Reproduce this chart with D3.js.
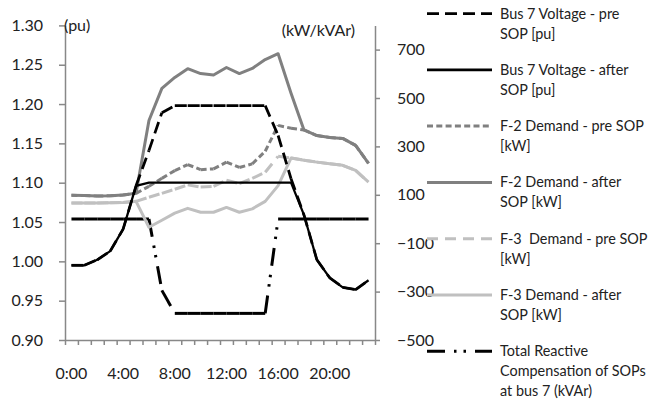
<!DOCTYPE html>
<html>
<head>
<meta charset="utf-8">
<script src="https://cdn.jsdelivr.net/npm/d3@7"></script>
<style>
  body { margin: 0; background: #fff; }
  text { font-family: Lato, "Open Sans", sans-serif; fill: #222; }
</style>
</head>
<body>
<div id="chart"></div>
<script>
// hourly data, 0:00 .. 23:00
const hours = d3.range(24).map(h => h + ':00');
const hourLabels = ['0:00', '4:00', '8:00', '12:00', '16:00', '20:00'];

// left axis (pu)
const busPre = [0.995, 0.995, 1.002, 1.013, 1.041, 1.096, 1.141, 1.189, 1.198, 1.198, 1.198, 1.198,
  1.198, 1.198, 1.198, 1.198, 1.160, 1.105, 1.059, 1.002, 0.979, 0.967, 0.964, 0.976];
const busAfter = [0.995, 0.995, 1.002, 1.013, 1.041, 1.096, 1.100, 1.100, 1.100, 1.100, 1.100, 1.100,
  1.100, 1.100, 1.100, 1.100, 1.100, 1.100, 1.059, 1.002, 0.979, 0.967, 0.964, 0.976];

// right axis (kW / kVAr)
const f2Pre = [98, 97, 95, 96, 99, 106, 135, 168, 200, 225, 204, 207,
  235, 213, 228, 280, 387, 375, 368, 345, 337, 333, 304, 230];
const f2After = [98, 97, 95, 96, 99, 106, 407, 540, 585, 621, 601, 595,
  626, 601, 622, 659, 683, 520, 368, 345, 337, 333, 304, 230];
const f3Pre = [66, 66, 66, 67, 68, 73, 90, 106, 123, 141, 132, 135,
  160, 146, 168, 193, 259, 252, 243, 235, 228, 222, 201, 152];
const f3After = [66, 66, 66, 67, 68, 73, -34, -5, 24, 44, 28, 28,
  48, 28, 42, 73, 138, 252, 243, 235, 228, 222, 201, 152];
const reactive = [0, 0, 0, 0, 0, 0, 0, -295, -390, -390, -390, -390,
  -390, -390, -390, -390, 0, 0, 0, 0, 0, 0, 0, 0];

const leftTicks = [0.90, 0.95, 1.00, 1.05, 1.10, 1.15, 1.20, 1.25, 1.30];
const rightTicks = [-500, -300, -100, 100, 300, 500, 700];

const width = 652, height = 402;
const plot = { left: 65, right: 375, top: 25.4, bottom: 340 };
const axisColor = '#888';

const svg = d3.select('#chart').append('svg')
  .attr('width', width)
  .attr('height', height);

const x = d3.scaleBand().domain(hours).range([plot.left, plot.right]);
const xEdge = d3.scaleLinear().domain([0, 24]).range([plot.left, plot.right]);
const yL = d3.scaleLinear().domain([0.9, 1.3]).range([plot.bottom, plot.top]);
const yR = d3.scaleLinear().domain([-500, 800]).range([plot.bottom, plot.top]);

function styleAxis(g) {
  g.selectAll('path, line').attr('stroke', axisColor).attr('stroke-width', 1.5);
  g.selectAll('text').style('font-size', '16px').attr('fill', '#222');
}

// left axis
svg.append('g')
  .attr('transform', `translate(${plot.left},0)`)
  .call(d3.axisLeft(yL).tickValues(leftTicks).tickFormat(d3.format('.2f'))
    .tickSize(6).tickSizeOuter(0).tickPadding(16))
  .call(styleAxis);

// right axis
svg.append('g')
  .attr('transform', `translate(${plot.right},0)`)
  .call(d3.axisRight(yR).tickValues(rightTicks).tickSize(5).tickSizeOuter(0).tickPadding(17))
  .call(styleAxis);

// x axis: ticks at the hour boundaries, labels every 4 hours
svg.append('g')
  .attr('transform', `translate(0,${plot.bottom})`)
  .call(d3.axisBottom(xEdge).tickValues(d3.range(25)).tickFormat('').tickSize(5).tickSizeOuter(0))
  .call(styleAxis);

svg.append('g')
  .attr('transform', `translate(0,${plot.bottom})`)
  .call(d3.axisBottom(x).tickValues(hourLabels).tickSize(0).tickPadding(28))
  .call(g => g.select('.domain').remove())
  .call(styleAxis);

// axis units
svg.append('text').attr('x', 64).attr('y', 25).attr('dy', '0.35em')
  .style('font-size', '16px').text('(pu)');
svg.append('text').attr('x', 355).attr('y', 30).attr('dy', '0.35em')
  .attr('text-anchor', 'end').style('font-size', '16px').text('(kW/kVAr)');

const series = [
  { name: ['Bus 7 Voltage - pre', 'SOP [pu]'], values: busPre, y: yL, color: '#000', w: 2.75, dash: '12,6' },
  { name: ['Bus 7 Voltage - after', 'SOP [pu]'], values: busAfter, y: yL, color: '#000', w: 2.25, dash: null },
  { name: ['F-2 Demand - pre SOP', '[kW]'], values: f2Pre, y: yR, color: '#808080', w: 3, dash: '6,3.3' },
  { name: ['F-2 Demand - after', 'SOP [kW]'], values: f2After, y: yR, color: '#808080', w: 3, dash: null },
  { name: ['F-3  Demand - pre SOP', '[kW]'], values: f3Pre, y: yR, color: '#c0c0c0', w: 3, dash: '11,7' },
  { name: ['F-3 Demand - after', 'SOP [kW]'], values: f3After, y: yR, color: '#c0c0c0', w: 3, dash: null },
  { name: ['Total Reactive', 'Compensation of SOPs', 'at bus 7 (kVAr)'], values: reactive, y: yR, color: '#000', w: 3, dash: '18,9,2.5,7,2.5,9' }
];

const cx = j => x(hours[j]) + x.bandwidth() / 2;

// draw order: reactive and demand first, voltage on top
// dashed series: the pattern restarts at every point (one path per segment)
const drawOrder = [6, 5, 4, 3, 2, 0, 1];
drawOrder.forEach(i => {
  const s = series[i];
  const g = svg.append('g');
  if (!s.dash) {
    g.append('path')
      .datum(s.values)
      .attr('fill', 'none')
      .attr('stroke', s.color)
      .attr('stroke-width', s.w)
      .attr('stroke-linejoin', 'round')
      .attr('d', d3.line().x((d, j) => cx(j)).y(d => s.y(d)));
  } else {
    const segs = d3.pairs(s.values.map((v, j) => [cx(j), s.y(v)]));
    g.selectAll('path')
      .data(segs)
      .join('path')
      .attr('fill', 'none')
      .attr('stroke', s.color)
      .attr('stroke-width', s.w)
      .attr('stroke-dasharray', s.dash)
      .attr('d', d => d3.line()(d));
  }
});

// legend
const legend = svg.append('g');
series.forEach((s, i) => {
  const cy = 13.5 + i * 56.3;
  legend.append('line')
    .attr('x1', 427).attr('x2', 492)
    .attr('y1', cy).attr('y2', cy)
    .attr('stroke', s.color)
    .attr('stroke-width', s.w === 2.25 ? 2.75 : s.w)
    .attr('stroke-dasharray', s.dash);
  const t = legend.append('text')
    .attr('x', 500).attr('y', cy)
    .style('font-size', '14.4px')
    .style('white-space', 'pre');
  s.name.forEach((ln, k) => {
    t.append('tspan').attr('x', 500).attr('y', cy + k * 20).attr('dy', '0.35em').text(ln);
  });
});
</script>
</body>
</html>
